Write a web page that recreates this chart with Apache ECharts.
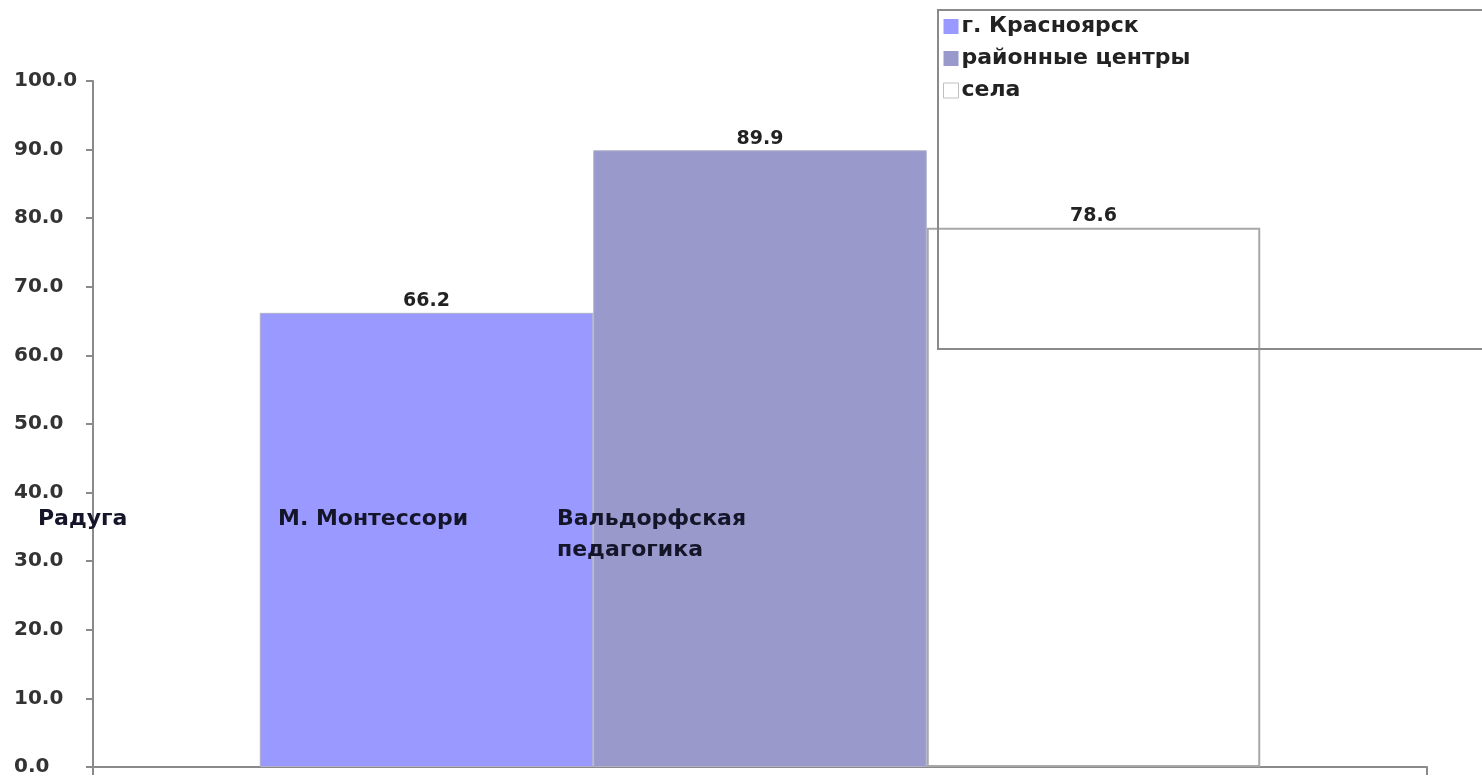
<!DOCTYPE html>
<html>
<head>
<meta charset="utf-8">
<script src="https://cdn.jsdelivr.net/npm/echarts@6/dist/echarts.min.js"></script>
<style>
html,body{margin:0;padding:0;background:#fff;}
#chart{width:1482px;height:777px;}
</style>
</head>
<body>
<div id="chart"></div>
<script>
const seriesNames = ['г. Красноярск', 'районные центры', 'села'];
const seriesValues = [66.2, 89.9, 78.6];
const seriesColors = ['#9999ff', '#9999cc', '#ffffff'];
const categories = [''];
const categoryTexts = ['Радуга', 'М. Монтессори', 'Вальдорфская\nпедагогика'];
const yMin = 0, yMax = 100, yInterval = 10;

const FONT = 'DejaVu Sans';
const chart = echarts.init(document.getElementById('chart'));

const series = seriesNames.map((name, i) => ({
  name: name,
  type: 'bar',
  data: [seriesValues[i]],
  barGap: '0%',
  barCategoryGap: '25%',
  itemStyle: {
    color: seriesColors[i],
    borderColor: i === 2 ? '#a8a8a8' : '#b0b0c8',
    borderWidth: i === 2 ? 2 : 1
  },
  label: {
    show: true,
    position: 'top',
    distance: 2,
    formatter: p => p.value.toFixed(1),
    fontFamily: FONT,
    fontWeight: 'bold',
    fontSize: 19,
    color: '#222'
  }
}));

const textPos = [[38, 504], [278, 504], [557, 504]];
const graphics = categoryTexts.map((t, i) => ({
  type: 'text',
  left: textPos[i][0],
  top: textPos[i][1],
  z: 100,
  style: {
    text: t,
    fontFamily: FONT,
    fontWeight: 'bold',
    fontSize: 22,
    lineHeight: 31,
    fill: '#15152a'
  }
}));

chart.setOption({
  animation: false,
  backgroundColor: '#ffffff',
  grid: { left: 93, right: 55, top: 81, bottom: 9, containLabel: false },
  legend: {
    orient: 'vertical',
    left: 938,
    top: 10,
    padding: [5, 400, 247, 5],
    itemGap: 9,
    itemWidth: 15,
    itemHeight: 15,
    borderColor: '#8a8a8a',
    borderWidth: 2,
    backgroundColor: 'transparent',
    icon: 'rect',
    textStyle: { fontFamily: FONT, fontWeight: 'bold', fontSize: 22, lineHeight: 23, color: '#222', padding: [0,0,0,-2] },
    data: seriesNames.map((n, i) => ({
      name: n,
      itemStyle: i === 2 ? { color: '#ffffff', borderColor: '#c0c0c0', borderWidth: 1 } : { color: seriesColors[i], borderWidth: 0 }
    }))
  },
  xAxis: {
    type: 'category',
    data: categories,
    boundaryGap: true,
    axisLine: { show: true, lineStyle: { color: '#8a8a8a', width: 2 } },
    axisTick: { show: true, length: 8, lineStyle: { color: '#8a8a8a', width: 2 } },
    axisLabel: { show: false },
    splitLine: { show: false }
  },
  yAxis: {
    type: 'value',
    min: yMin,
    max: yMax,
    interval: yInterval,
    axisLine: { show: true, lineStyle: { color: '#8a8a8a', width: 2 } },
    axisTick: { show: true, length: 7, lineStyle: { color: '#8a8a8a', width: 2 } },
    splitLine: { show: false },
    axisLabel: {
      align: 'left',
      margin: 79,
      formatter: v => v.toFixed(1),
      fontFamily: FONT,
      fontWeight: 'bold',
      fontSize: 20,
      color: '#333'
    }
  },
  graphic: graphics,
  series: series
});
</script>
</body>
</html>
